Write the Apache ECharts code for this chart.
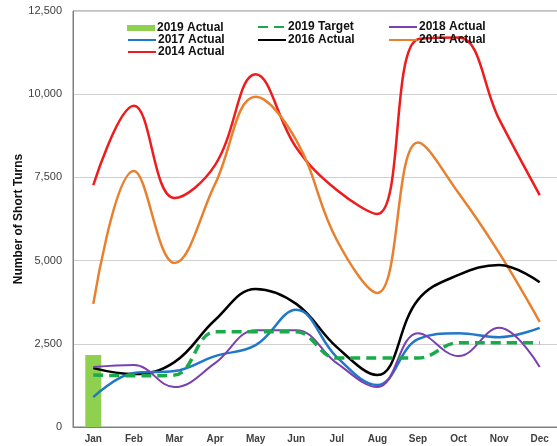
<!DOCTYPE html>
<html>
<head>
<meta charset="utf-8">
<script src="https://cdn.jsdelivr.net/npm/echarts@6/dist/echarts.min.js"></script>
<style>
  html, body { margin: 0; padding: 0; background: #fff; }
  #chart { width: 557px; height: 446px; }
</style>
</head>
<body>
<div id="chart"></div>
<script>
// Monthly short-turn counts by year
const months = ['Jan','Feb','Mar','Apr','May','Jun','Jul','Aug','Sep','Oct','Nov','Dec'];
const actual2019 = [2160, null, null, null, null, null, null, null, null, null, null, null];
const target2019 = [1560, 1540, 1560, 2860, 2860, 2860, 2070, 2070, 2070, 2530, 2530, 2530];
const actual2018 = [1800, 1860, 1200, 1920, 2910, 2910, 1920, 1200, 2820, 2130, 2980, 1800];
const actual2017 = [900, 1620, 1680, 2130, 2460, 3520, 2100, 1260, 2640, 2820, 2700, 2980];
const actual2016 = [1770, 1590, 1950, 3215, 4150, 3700, 2400, 1560, 3820, 4570, 4870, 4350];
const actual2015 = [3700, 7690, 4930, 7300, 9920, 8620, 5620, 4030, 8550, 7030, 5230, 3160];
const actual2014 = [7270, 9650, 6880, 7870, 10600, 8400, 7120, 6400, 11650, 11700, 9250, 6970];
const yTicks = [0, 2500, 5000, 7500, 10000, 12500];

const FONT = 'Liberation Sans, Arial, sans-serif';
const chart = echarts.init(document.getElementById('chart'), null, { renderer: 'canvas' });

function lineSeries(name, data, color, width, dashed) {
  return {
    name: name,
    type: 'line',
    data: data,
    smooth: 0.4,
    showSymbol: false,
    symbol: 'none',
    lineStyle: { color: color, width: width, type: dashed ? [10, 6] : 'solid' },
    itemStyle: { color: color },
    z: 3
  };
}

// One legend block per entry so the three columns line up
function legendItem(name, left, top, isBar) {
  return {
    left: left, top: top, orient: 'horizontal', padding: 0,
    itemWidth: 28, itemHeight: isBar ? 6 : 8, itemGap: 0,
    selectedMode: false,
    itemStyle: { opacity: isBar ? 1 : 0 },
    textStyle: { fontFamily: FONT, fontWeight: 'bold', fontSize: 12, color: '#111', padding: [0, 0, 0, -3] },
    data: [isBar ? { name: name, icon: 'rect' } : name]
  };
}

const col = [127, 257, 388];
const row = [22, 35, 47];

chart.setOption({
  animation: false,
  backgroundColor: '#fff',
  grid: {
    left: 73, top: 11, width: 487, height: 416,
    show: true, borderColor: '#7f7f7f', borderWidth: 1,
    containLabel: false, outerBoundsMode: 'none'
  },
  legend: [
    legendItem('2019 Actual', col[0], row[0], true),
    legendItem('2019 Target', col[1], row[0] - 1, false),
    legendItem('2018 Actual', col[2], row[0] - 1, false),
    legendItem('2017 Actual', col[0], row[1] - 1, false),
    legendItem('2016 Actual', col[1], row[1] - 1, false),
    legendItem('2015 Actual', col[2], row[1] - 1, false),
    legendItem('2014 Actual', col[0], row[2] - 1, false)
  ],
  xAxis: {
    type: 'category',
    data: months,
    boundaryGap: true,
    axisLine: { lineStyle: { color: '#7f7f7f', width: 1 } },
    axisTick: { show: false },
    axisLabel: { fontFamily: FONT, fontWeight: 'bold', fontSize: 10, color: '#404040', margin: 7 }
  },
  yAxis: {
    type: 'value',
    min: yTicks[0],
    max: yTicks[yTicks.length - 1],
    interval: 2500,
    name: 'Number of Short Turns',
    nameLocation: 'middle',
    nameGap: 48,
    nameMoveOverlap: false,
    nameTextStyle: { fontFamily: FONT, fontWeight: 'bold', fontSize: 12, color: '#111' },
    axisLine: { show: true, lineStyle: { color: '#7f7f7f', width: 1 } },
    axisTick: { show: false },
    axisLabel: {
      fontFamily: FONT, fontSize: 11, color: '#404040', margin: 11,
      formatter: v => v.toLocaleString('en-US')
    },
    splitLine: { lineStyle: { color: '#d0d0d0', width: 1 } }
  },
  series: [
    { name: '2019 Actual', type: 'bar', data: actual2019, barWidth: 16, itemStyle: { color: '#8fd14f' }, z: 2 },
    lineSeries('2014 Actual', actual2014, '#ee1c1c', 2.5, false),
    lineSeries('2015 Actual', actual2015, '#e8802e', 2.5, false),
    lineSeries('2016 Actual', actual2016, '#000000', 2.5, false),
    lineSeries('2017 Actual', actual2017, '#1f78c8', 2.5, false),
    lineSeries('2018 Actual', actual2018, '#7a3fb0', 2, false),
    lineSeries('2019 Target', target2019, '#1aaa4a', 3.5, true)
  ]
});
</script>
</body>
</html>
